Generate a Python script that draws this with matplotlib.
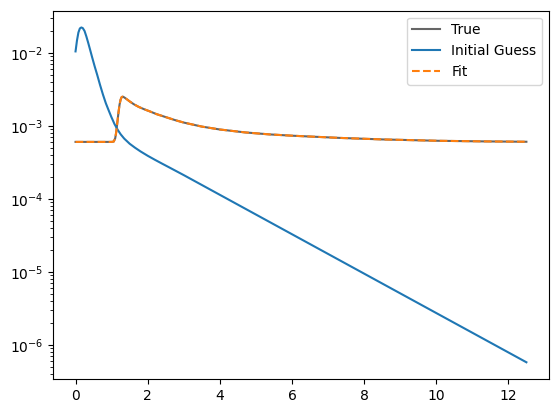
import numpy as np
import matplotlib
matplotlib.use("Agg")
import matplotlib.pyplot as plt

# values (log10 of y)
x_guess = [0.0, 0.04, 0.08, 0.12, 0.16, 0.20, 0.25, 0.30, 0.35, 0.40, 0.46, 0.53, 0.60,
           0.68, 0.76, 0.84, 0.92, 0.99, 1.08, 1.17, 1.25, 1.35, 1.50, 1.65, 1.80, 2.0,
           2.2, 2.4, 2.6, 3.0, 3.5, 4.0, 5.0, 6.0, 8.0, 10.0, 12.5]
log_guess = [-1.98, -1.83, -1.72, -1.665, -1.652, -1.66, -1.70, -1.775, -1.86, -1.95, -2.06,
             -2.184, -2.30, -2.44, -2.571, -2.69, -2.79, -2.875, -2.975, -3.055, -3.115,
             -3.175, -3.245, -3.30, -3.35, -3.41, -3.465, -3.518, -3.57, -3.675, -3.81,
             -3.945, -4.215, -4.485, -5.025, -5.565, -6.24]

x_true = [0.0, 0.5, 1.0, 1.06, 1.10, 1.13, 1.16, 1.19, 1.22, 1.25, 1.28, 1.31, 1.35,
          1.42, 1.5, 1.62, 1.75, 1.9, 2.05, 2.25, 2.5, 2.75, 3.0, 3.5, 4.0, 4.7, 5.37,
          6.0, 7.31, 8.5, 10.08, 11.3, 12.5]
log_true = [-3.22, -3.22, -3.22, -3.215, -3.17, -3.08, -2.95, -2.82, -2.71, -2.64, -2.605,
            -2.60, -2.61, -2.635, -2.665, -2.705, -2.74, -2.772, -2.80, -2.84, -2.88,
            -2.92, -2.955, -3.01, -3.05, -3.09, -3.117, -3.135, -3.165, -3.186, -3.205,
            -3.213, -3.218]

y_guess = 10.0 ** np.array(log_guess)
y_true = 10.0 ** np.array(log_true)
y_fit = y_true.copy()

fig = plt.figure(figsize=(5.59, 4.13), dpi=100)
ax = fig.add_axes([0.0948, 0.0823, 0.8872, 0.8917])

ax.plot(x_true, y_true, color='k', alpha=0.6, label='True')
ax.plot(x_guess, y_guess, color='#1f77b4', label='Initial Guess')
ax.plot(x_true, y_fit, color='#ff7f0e', linestyle='--', label='Fit')
ax.set_yscale('log')
ax.legend(loc='upper right')

plt.savefig('out.png', dpi=100)
